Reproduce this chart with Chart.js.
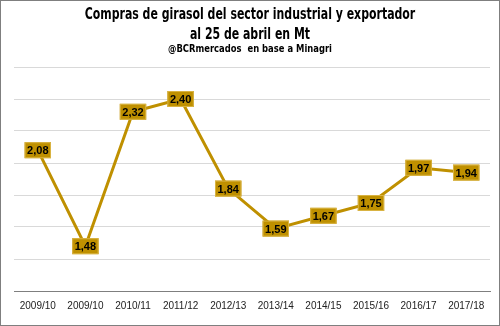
<!DOCTYPE html>
<html>
<head>
<meta charset="utf-8">
<script src="https://cdn.jsdelivr.net/npm/chart.js@4"></script>
<style>
  html, body { margin: 0; padding: 0; background: #fff; }
  #wrap { width: 498px; height: 324px; border: 1px solid #7f7f7f; position: relative; }
  canvas { position: absolute; left: -1px; top: -1px; }
</style>
</head>
<body>
<div id="wrap"><canvas id="girasolChart" width="500" height="326"></canvas></div>
<script>
const campaigns = ['2009/10', '2009/10', '2010/11', '2011/12', '2012/13', '2013/14', '2014/15', '2015/16', '2016/17', '2017/18'];
const purchases = [2.08, 1.48, 2.32, 2.40, 1.84, 1.59, 1.67, 1.75, 1.97, 1.94];
const titleLines = ['Compras de girasol del sector industrial y exportador', 'al 25 de abril en Mt'];
const sourceText = '@BCRmercados  en base a Minagri';

const gold = '#BF9000';
const narrow = "'Liberation Sans Narrow', 'DejaVu Sans Condensed', sans-serif";

// condensed heading text, squeezed horizontally like the original font
function squeezedText(ctx, txt, x, y, font, sx) {
    ctx.save();
    ctx.font = font;
    ctx.textAlign = 'center';
    ctx.textBaseline = 'middle';
    ctx.fillStyle = '#000';
    ctx.translate(x, y);
    ctx.scale(sx, 1);
    ctx.fillText(txt, 0, 0);
    ctx.restore();
}

const heading = {
    id: 'heading',
    afterDraw(chart) {
        const c = chart.ctx;
        squeezedText(c, titleLines[0], 250, 15, 'bold 16px ' + narrow, 0.76);
        squeezedText(c, titleLines[1], 250, 35, 'bold 16px ' + narrow, 0.76);
        squeezedText(c, sourceText, 250, 49, 'bold 11px ' + narrow, 0.85);
    }
};

// draws the gold value boxes on top of each point
const valueBoxes = {
    id: 'valueBoxes',
    afterDatasetsDraw(chart) {
        const ctx = chart.ctx;
        const meta = chart.getDatasetMeta(0);
        ctx.save();
        ctx.font = 'bold 11px "Liberation Sans", Arial, sans-serif';
        ctx.textAlign = 'center';
        ctx.textBaseline = 'middle';
        meta.data.forEach((pt, i) => {
            const txt = purchases[i].toFixed(2).replace('.', ',');
            const w = ctx.measureText(txt).width + 5;
            const h = 16;
            ctx.fillStyle = gold;
            ctx.fillRect(pt.x - w / 2, pt.y - h / 2, w, h);
            ctx.strokeStyle = '#D9B342';
            ctx.lineWidth = 1;
            ctx.strokeRect(pt.x - w / 2 + 0.5, pt.y - h / 2 + 0.5, w - 1, h - 1);
            ctx.fillStyle = '#000';
            ctx.fillText(txt, pt.x, pt.y + 1);
        });
        ctx.restore();
    }
};

const ctx = document.getElementById('girasolChart').getContext('2d');
const chart = new Chart(ctx, {
    type: 'line',
    data: {
        labels: campaigns,
        datasets: [{
            data: purchases,
            borderColor: gold,
            borderWidth: 3,
            pointRadius: 0,
            tension: 0,
            fill: false,
        }],
    },
    options: {
        responsive: false,
        animation: false,
        layout: { padding: { left: 14, right: 10, top: 67, bottom: 13 } },
        plugins: {
            legend: { display: false },
            tooltip: { enabled: false },
            title: { display: false },
        },
        scales: {
            x: {
                offset: true,
                grid: { display: false },
                border: { color: '#7f7f7f', width: 1 },
                ticks: {
                    color: '#222',
                    font: { family: '"Liberation Sans", Arial, sans-serif', size: 10 },
                    padding: 1,
                    maxRotation: 0,
                    autoSkip: false,
                },
            },
            y: {
                min: 1.2,
                max: 2.6,
                ticks: { display: false, stepSize: 0.2 },
                grid: { color: '#d9d9d9', drawTicks: false },
                border: { display: false },
            },
        },
    },
    plugins: [valueBoxes, heading],
});
</script>
</body>
</html>
